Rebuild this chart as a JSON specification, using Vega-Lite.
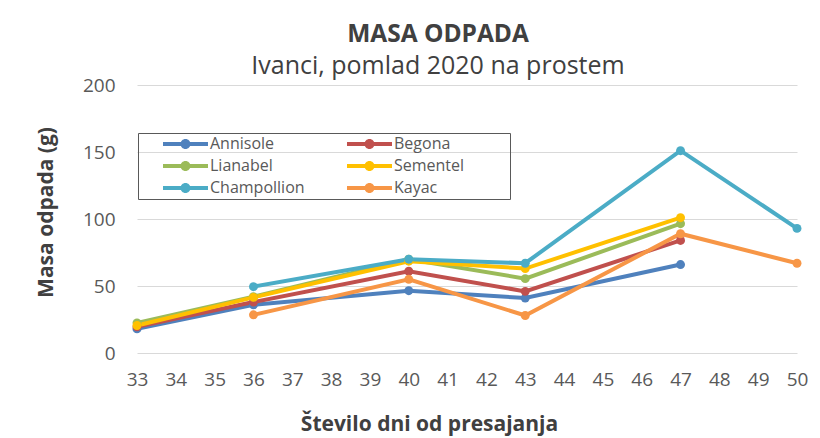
{
  "$schema": "https://vega.github.io/schema/vega-lite/v6.json",
  "width": 660,
  "height": 268,
  "autosize": "none",
  "padding": {"left": 137, "top": 85, "right": 23, "bottom": 85},
  "background": "white",
  "config": {
    "view": {"stroke": null},
    "font": "Open Sans"
  },
  "title": {
    "text": "MASA ODPADA",
    "subtitle": "Ivanci, pomlad 2020 na prostem",
    "frame": "group",
    "anchor": "middle",
    "dx": -29,
    "offset": -4,
    "font": "Open Sans",
    "fontSize": 24.5,
    "fontWeight": "bold",
    "color": "#404040",
    "subtitleFont": "Open Sans",
    "subtitleFontSize": 25,
    "subtitleColor": "#404040",
    "subtitlePadding": 7
  },
  "data": {
    "values": [
      {"day": 33, "v": 18, "s": "Annisole"},
      {"day": 36, "v": 36, "s": "Annisole"},
      {"day": 40, "v": 46.5, "s": "Annisole"},
      {"day": 43, "v": 41, "s": "Annisole"},
      {"day": 47, "v": 66, "s": "Annisole"},
      {"day": 33, "v": 19.5, "s": "Begona"},
      {"day": 36, "v": 38, "s": "Begona"},
      {"day": 40, "v": 61, "s": "Begona"},
      {"day": 43, "v": 46, "s": "Begona"},
      {"day": 47, "v": 84, "s": "Begona"},
      {"day": 33, "v": 22.5, "s": "Lianabel"},
      {"day": 36, "v": 42, "s": "Lianabel"},
      {"day": 40, "v": 70, "s": "Lianabel"},
      {"day": 43, "v": 55.5, "s": "Lianabel"},
      {"day": 47, "v": 96.5, "s": "Lianabel"},
      {"day": 33, "v": 20.5, "s": "Sementel"},
      {"day": 36, "v": 41.5, "s": "Sementel"},
      {"day": 40, "v": 68.5, "s": "Sementel"},
      {"day": 43, "v": 63, "s": "Sementel"},
      {"day": 47, "v": 101, "s": "Sementel"},
      {"day": 36, "v": 49.5, "s": "Champollion"},
      {"day": 40, "v": 70, "s": "Champollion"},
      {"day": 43, "v": 67, "s": "Champollion"},
      {"day": 47, "v": 151, "s": "Champollion"},
      {"day": 50, "v": 93, "s": "Champollion"},
      {"day": 36, "v": 28.5, "s": "Kayac"},
      {"day": 40, "v": 55, "s": "Kayac"},
      {"day": 43, "v": 28, "s": "Kayac"},
      {"day": 47, "v": 89, "s": "Kayac"},
      {"day": 50, "v": 67, "s": "Kayac"}
    ]
  },
  "mark": {"type": "line", "strokeWidth": 4, "point": {"size": 80, "filled": true, "opacity": 1}},
  "encoding": {
    "x": {
      "field": "day",
      "type": "quantitative",
      "scale": {"domain": [33, 50], "nice": false, "zero": false},
      "axis": {
        "values": [33,34,35,36,37,38,39,40,41,42,43,44,45,46,47,48,49,50],
        "grid": false,
        "domain": false,
        "ticks": false,
        "labelFontSize": 19,
        "labelColor": "#595959",
        "labelPadding": 17,
        "labelFlush": false,
        "title": "Število dni od presajanja",
        "titleFontSize": 21,
        "titleFontWeight": "bold",
        "titleColor": "#404040",
        "titleX": 292,
        "titleY": 71,
        "titleAlign": "center",
        "titleBaseline": "middle"
      }
    },
    "y": {
      "field": "v",
      "type": "quantitative",
      "scale": {"domain": [0, 200], "nice": false},
      "axis": {
        "values": [0, 50, 100, 150, 200],
        "grid": true,
        "gridColor": "#d9d9d9",
        "gridWidth": 1,
        "domain": false,
        "ticks": false,
        "labelFontSize": 19,
        "labelColor": "#595959",
        "labelPadding": 22,
        "title": "Masa odpada (g)",
        "titleFontSize": 21,
        "titleFontWeight": "bold",
        "titleColor": "#404040",
        "titleX": -91,
        "titleY": 127,
        "titleAlign": "center",
        "titleBaseline": "middle",
        "titleAngle": -90
      }
    },
    "color": {
      "field": "s",
      "type": "nominal",
      "sort": ["Annisole", "Begona", "Lianabel", "Sementel", "Champollion", "Kayac"],
      "scale": {
        "domain": ["Annisole", "Begona", "Lianabel", "Sementel", "Champollion", "Kayac"],
        "range": ["#4F81BD", "#C0504D", "#9BBB59", "#FFC000", "#4BACC6", "#F79646"]
      },
      "legend": {
        "title": "\u00a0",
        "titleOrient": "right",
        "titleFontSize": 4,
        "titlePadding": 46,
        "orient": "none",
        "legendX": 1,
        "legendY": 48,
        "direction": "horizontal",
        "columns": 2,
        "gridAlign": "all",
        "columnPadding": 17,
        "rowPadding": 0,
        "padding": 0,
        "clipHeight": 22,
        "strokeColor": "#595959",
        "symbolType": "M-0.286,-0.057H1V0.057H-0.286Z M0.5,0A0.143,0.143,0,1,1,0.214,0A0.143,0.143,0,1,1,0.5,0Z",
        "symbolSize": 4900,
        "symbolStrokeWidth": 0,
        "labelOffset": 2,
        "labelFontSize": 16,
        "labelColor": "#595959",
        "labelFont": "Open Sans",
        "encode": {
          "symbols": {"update": {"fill": {"scale": "color", "field": "value"}, "strokeWidth": {"value": 0}, "opacity": {"value": 1}}}
        }
      }
    }
  }
}
